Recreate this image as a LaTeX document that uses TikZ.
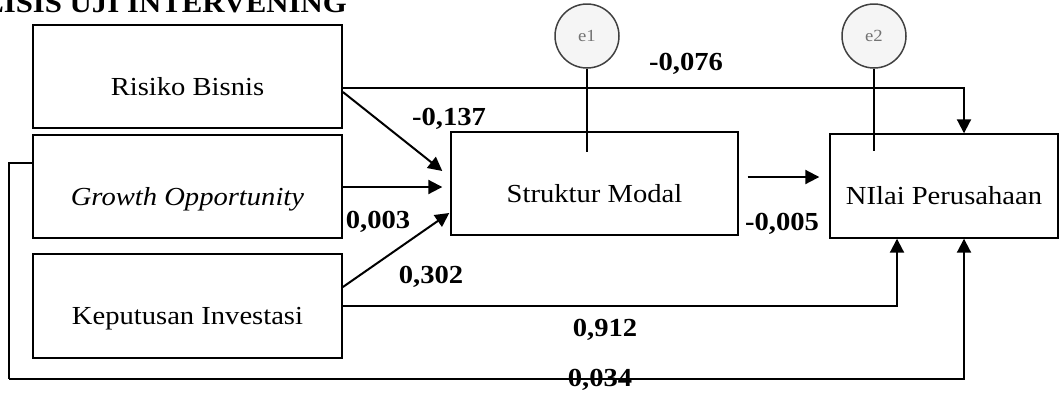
\documentclass[tikz,border=0pt]{standalone}
\usepackage{fontspec}
\setmainfont{Liberation Serif}[FakeStretch=1.1]
\usetikzlibrary{arrows.meta}
\begin{document}
\begin{tikzpicture}[x=1pt,y=-1pt,
  varbox/.style={draw=black,line width=1.8pt,minimum width=309pt,minimum height=103pt,
    inner sep=0pt,font=\fontsize{26}{30}\selectfont,text height=37pt,text depth=0pt},
  midbox/.style={varbox,line width=1.4pt},
  errc/.style={circle,draw=black!75,line width=1.5pt,fill=gray!8,minimum size=64pt,inner sep=0pt,
    font=\fontsize{17}{17}\selectfont,text=black!55},
  arr/.style={line width=2pt,-{Triangle[length=14pt,width=14pt]}},
  errline/.style={line width=1.8pt},
  coef/.style={font=\fontsize{26}{30}\selectfont\bfseries,anchor=base,inner sep=0pt}]
\useasboundingbox (0,0) rectangle (1060,392);
% clipped heading
\begin{scope}
\clip (0,0) rectangle (1060,392);
\node[anchor=base east,inner sep=0pt,font=\fontsize{28}{32}\selectfont\bfseries] (title) at (347,12) {ANALISIS UJI INTERVENING};
\end{scope}
% boxes
\node[varbox] (R) at (187.5,76.5) {Risiko Bisnis};
\node[varbox] (G) at (187.5,186.5) {\itshape Growth Opportunity};
\node[varbox,minimum height=104pt] (K) at (187.5,306) {Keputusan Investasi};
\node[midbox,minimum width=287pt] (S) at (594.5,183.5) {Struktur Modal};
\node[midbox,minimum width=228pt,minimum height=104pt] (N) at (944,186) {NIlai Perusahaan};
% error terms
\node[errc] (e1) at (587,36) {e1};
\node[errc] (e2) at (874,36) {e2};
\draw[errline] (e1) -- ([xshift=-7.5pt,yshift=-21pt]S.north);
\draw[errline] (e2) -- ([xshift=-70pt,yshift=-18pt]N.north);
% connectors
\coordinate (loop) at (9,379);
\draw[arr] ([yshift=-11.5pt]R.east) -| ([xshift=20pt]N.north);
\draw[arr] ([yshift=-15.5pt]R.east) -- ([xshift=-8pt,yshift=12.5pt]S.west);
\draw[arr] ([yshift=-0.5pt]G.east) -- ([xshift=-8pt,yshift=-3.5pt]S.west);
\draw[arr] ([yshift=19pt]K.east) -- ([xshift=-1pt,yshift=-29.5pt]S.west);
\draw[arr] (K.east) -| ([xshift=-47pt]N.south);
\draw[arr] ([xshift=9pt,yshift=6.5pt]S.east) -- ([xshift=-10pt,yshift=9pt]N.west);
\draw[line width=1.8pt] ([yshift=23.5pt]G.west) -| (loop);
\draw[arr] (loop) -| ([xshift=20pt]N.south);
% coefficients
\node[coef] (c1) at (686,70) {-0,076};
\node[coef] (c2) at (449,125) {-0,137};
\node[coef] (c3) at (378,228) {0,003};
\node[coef] (c4) at (431,283) {0,302};
\node[coef] (c5) at (782,230) {-0,005};
\node[coef] (c6) at (605,336) {0,912};
\node[coef] (c7) at (600,386) {0,034};
\end{tikzpicture}
\end{document}
